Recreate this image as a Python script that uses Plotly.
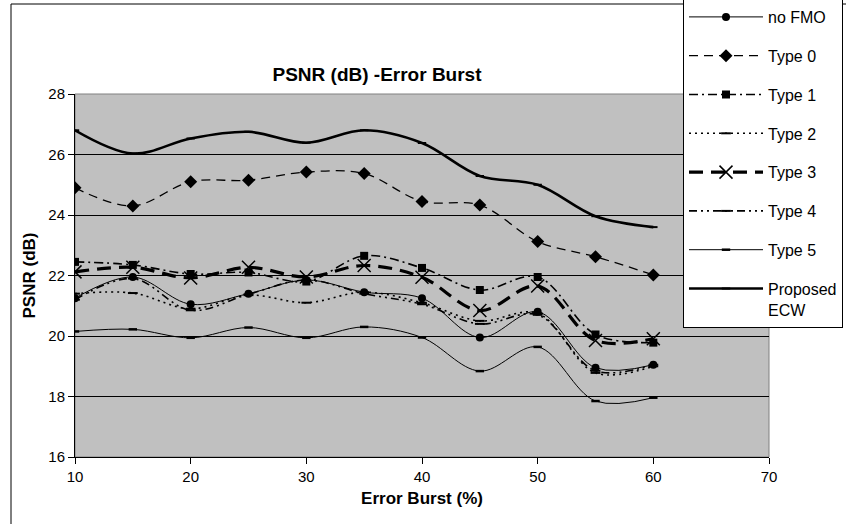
import plotly.graph_objects as go

error_burst = [10, 15, 20, 25, 30, 35, 40, 45, 50, 55, 60]

no_fmo   = [21.25, 21.95, 21.05, 21.4, 21.85, 21.45, 21.25, 19.95, 20.8, 18.95, 19.05]
type_0   = [24.9, 24.3, 25.1, 25.15, 25.42, 25.37, 24.45, 24.33, 23.12, 22.62, 22.02]
type_1   = [22.45, 22.35, 22.05, 22.1, 21.8, 22.65, 22.25, 21.52, 21.95, 20.05, 19.78]
type_2   = [21.4, 21.42, 20.9, 21.35, 21.1, 21.45, 21.1, 20.5, 20.75, 18.78, 19.0]
type_3   = [22.12, 22.27, 21.92, 22.27, 21.95, 22.33, 21.94, 20.84, 21.65, 19.85, 19.91]
type_4   = [21.2, 21.9, 20.85, 21.38, 21.85, 21.4, 21.05, 20.4, 20.7, 18.85, 19.05]
type_5   = [20.15, 20.22, 19.94, 20.28, 19.94, 20.3, 19.95, 18.84, 19.64, 17.85, 17.96]
proposed = [26.8, 26.03, 26.53, 26.75, 26.39, 26.8, 26.38, 25.29, 25.0, 23.96, 23.6]

x_ticks = [10, 20, 30, 40, 50, 60, 70]
y_ticks = [16, 18, 20, 22, 24, 26, 28]

series = [
    ("no FMO", no_fmo, dict(width=1, dash="solid"), dict(symbol="circle", size=8)),
    ("Type 0", type_0, dict(width=1.3, dash="9px,6px"), dict(symbol="diamond", size=10)),
    ("Type 1", type_1, dict(width=1.6, dash="9px,4px,2px,4px"), dict(symbol="square", size=8)),
    ("Type 2", type_2, dict(width=1.6, dash="2px,4px"), dict(symbol="line-ew-open", size=7, line=dict(width=2, color="black"))),
    ("Type 3", type_3, dict(width=3.2, dash="14px,8px"), dict(symbol="x-thin-open", size=13, line=dict(width=1.5, color="black"))),
    ("Type 4", type_4, dict(width=1.6, dash="8px,4px,2px,4px,2px,4px"), dict(symbol="line-ew-open", size=7, line=dict(width=2, color="black"))),
    ("Type 5", type_5, dict(width=1, dash="solid"), dict(symbol="line-ew-open", size=6, line=dict(width=2.5, color="black"))),
    ("Proposed<br>ECW", proposed, dict(width=2.6, dash="solid"), dict(symbol="line-ew-open", size=6, line=dict(width=2, color="black"))),
]

fig = go.Figure()
for i, (name, vals, line, marker) in enumerate(series):
    fig.add_trace(go.Scatter(
        x=error_burst, y=vals, name=name, mode="lines+markers",
        line=dict(color="black", shape="spline", smoothing=1, **line),
        marker=dict(color="black", **marker),
        legendgroup=f"g{i}",
    ))

L, R, T, B = 75, 77, 94, 67
W, H = 846, 524
pw = W - L - R
ph = H - T - B

def px_x(p):
    return (p - L) / pw

def px_y(p):
    return (H - B - p) / ph

fig.update_layout(
    width=W, height=H,
    margin=dict(l=L, r=R, t=T, b=B, autoexpand=False),
    paper_bgcolor="white",
    plot_bgcolor="#C0C0C0",
    font=dict(family="Arial, Liberation Sans, sans-serif", color="black", size=15),
    title=dict(text="<b>PSNR (dB) -Error Burst</b>", font=dict(size=19, color="black"),
               xref="paper", x=px_x(377), xanchor="center",
               yref="container", y=1 - 74 / H, yanchor="middle"),
    showlegend=True,
    legend=dict(
        x=px_x(683), xanchor="left", y=px_y(-1), yanchor="top",
        bgcolor="white", bordercolor="black", borderwidth=1,
        font=dict(size=16, color="black"),
        itemwidth=74, tracegroupgap=15, valign="top", maxheight=1000,
    ),
    xaxis=dict(
        range=[10, 70], tickvals=x_ticks, ticks="outside", ticklen=6, tickcolor="black",
        showline=True, linecolor="black", linewidth=1, showgrid=False, zeroline=False,
        title=dict(text="<b>Error Burst (%)</b>", font=dict(size=17), standoff=8),
    ),
    yaxis=dict(
        range=[16, 28], tickvals=y_ticks, ticks="outside", ticklen=6, tickcolor="black",
        showline=True, linecolor="black", linewidth=1, showgrid=True, gridcolor="black",
        gridwidth=1, zeroline=False,
        title=dict(text="<b>PSNR (dB)</b>", font=dict(size=17), standoff=8),
    ),
    shapes=[
        dict(type="rect", xref="paper", yref="paper", x0=0, x1=1, y0=0, y1=1,
             line=dict(color="#808080", width=1), layer="below"),
        dict(type="rect", xref="paper", yref="paper", x0=px_x(11), x1=px_x(900),
             y0=px_y(600), y1=px_y(4), line=dict(color="black", width=1), layer="below"),
    ],
)

fig.write_html("out.html")
